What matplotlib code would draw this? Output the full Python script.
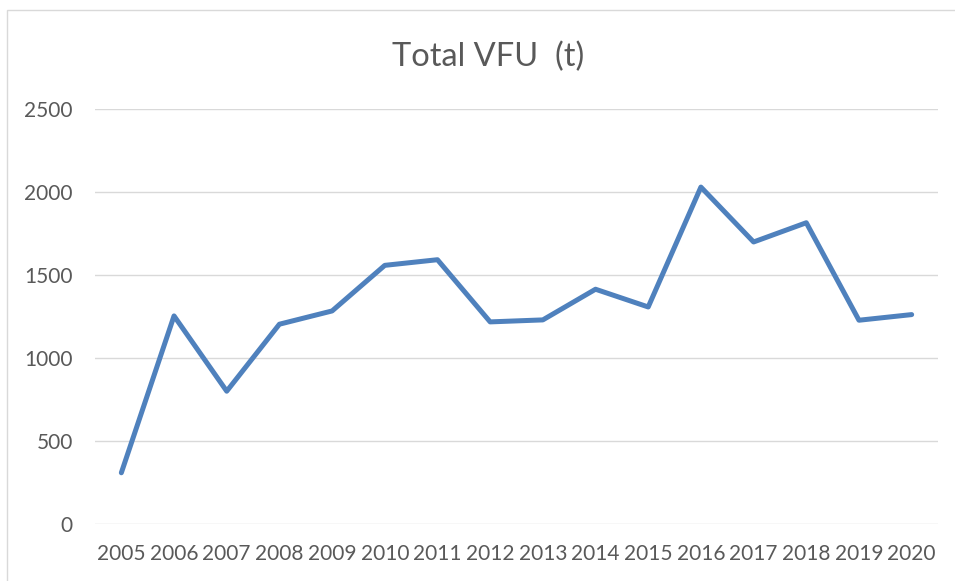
import matplotlib.pyplot as plt
from matplotlib.patches import Rectangle

years = ["2005", "2006", "2007", "2008", "2009", "2010", "2011", "2012",
         "2013", "2014", "2015", "2016", "2017", "2018", "2019", "2020"]
vfu = [306, 1252, 798, 1202, 1282, 1557, 1591, 1216,
       1228, 1413, 1306, 2029, 1698, 1814, 1226, 1260]
yticks = [0, 500, 1000, 1500, 2000, 2500]

plt.rcParams['font.family'] = ['Lato', 'DejaVu Sans']
text_col = '#595959'

fig = plt.figure(figsize=(9.55, 5.81), dpi=100)
ax = fig.add_axes([95/955, 1 - 523.5/581, (938 - 95)/955, (523.5 - 109)/581])

x = list(range(len(years)))
ax.plot(x, vfu, color='#4f81bd', linewidth=3.6, solid_joinstyle='round',
        solid_capstyle='round', zorder=3)

ax.set_xlim(-0.5, len(years) - 0.5)
ax.set_ylim(0, 2500)
ax.set_yticks(yticks)
ax.set_yticklabels([str(v) for v in yticks])
ax.set_xticks(x)
ax.set_xticklabels(years)
ax.grid(axis='y', color='#d9d9d9', linewidth=1.0)
ax.set_axisbelow(True)
for s in ax.spines.values():
    s.set_visible(False)
ax.tick_params(axis='both', length=0, colors=text_col)
ax.tick_params(axis='y', pad=16, labelsize=15)
ax.tick_params(axis='x', pad=15, labelsize=15)

fig.text(488/955, 1 - 57/581, "Total VFU  (t)", ha='center', va='center',
         fontsize=23.5, color=text_col)

# chart frame
fig.patches.append(Rectangle((7/955, -0.1), 1.2, 1 - 10/581 + 0.1,
                             transform=fig.transFigure, fill=False,
                             edgecolor='#d9d9d9', linewidth=1.0))

plt.savefig("out.png", dpi=100)
